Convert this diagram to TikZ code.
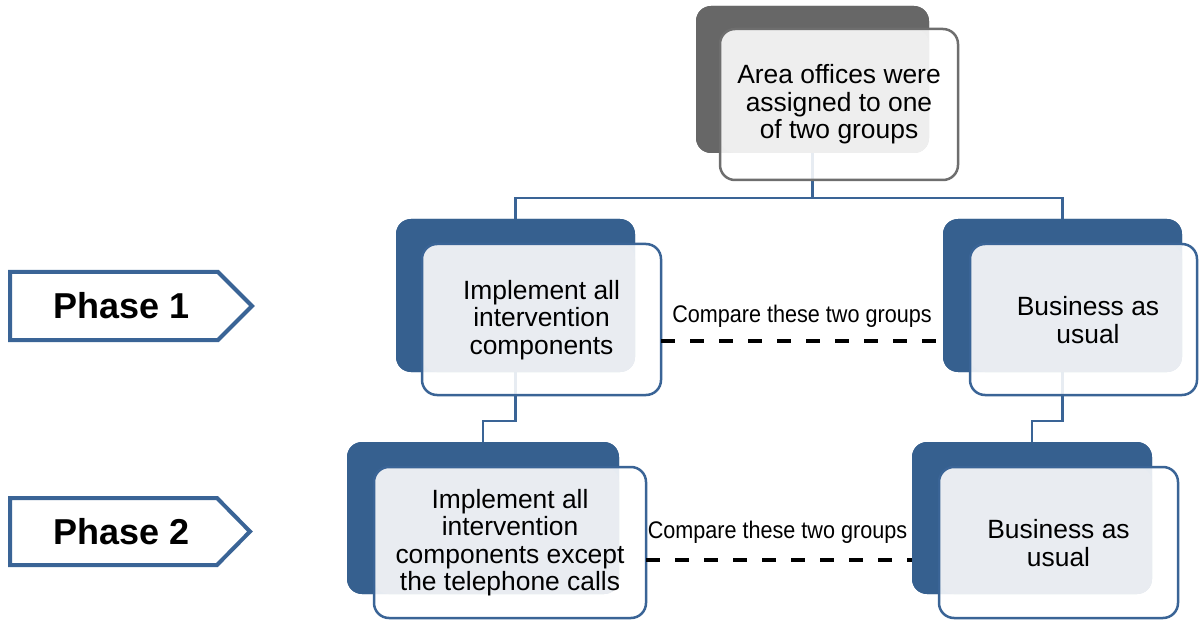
\documentclass[tikz,border=0pt]{standalone}
\usepackage{fontspec}
\setmainfont{Liberation Sans}
\newfontfamily\labelfont[FakeStretch=0.9]{Liberation Sans}
\usetikzlibrary{calc}
\definecolor{greyback}{HTML}{676767}
\definecolor{greyline}{HTML}{6E6E6E}
\definecolor{greylight}{HTML}{EEEEEE}
\definecolor{blueback}{HTML}{36608F}
\definecolor{blueline}{HTML}{3A6496}
\definecolor{bluelight}{HTML}{E9ECF1}
\tikzset{
  backbox/.style={rectangle, rounded corners=15pt, inner sep=0pt, outer sep=0pt, fill=#1},
  frontbox/.style 2 args={rectangle, rounded corners=15pt, inner sep=0pt, outer sep=0pt,
    draw=#1, line width=2.5pt, fill=white, fill opacity=0.88, text opacity=1,
    path picture={\fill[#2, fill opacity=1, rounded corners=15pt]
      (path picture bounding box.north west) rectangle (\darkname.south east);}},
  boxtext/.style={align=center, inner sep=0pt, font=\fontsize{26.4}{27.5}\selectfont},
  conn/.style={draw=blueline, line width=2.8pt},
  dashline/.style={draw=black, line width=4pt, dash pattern=on 14pt off 15pt},
  cmptext/.style={anchor=base, inner sep=0pt, font=\labelfont\fontsize{24}{26}\selectfont},
  phasebox/.style={draw=blueline, line width=4pt, fill=white, line join=miter},
  phasetext/.style={inner sep=0pt, font=\bfseries\fontsize{36}{40}\selectfont}
}
\begin{document}
\begin{tikzpicture}[x=1pt,y=-1pt]
\useasboundingbox (0,0) rectangle (1199,620);

% dark back boxes
\node[backbox=greyback, minimum width=233pt, minimum height=147pt] (topD) at (812.5,79.5) {};
\node[backbox=blueback, minimum width=239pt, minimum height=153pt] (mlD) at (515.5,295.5) {};
\node[backbox=blueback, minimum width=239pt, minimum height=153pt] (mrD) at (1062.5,295.5) {};
\node[backbox=blueback, minimum width=272pt, minimum height=152pt] (blD) at (483,518) {};
\node[backbox=blueback, minimum width=240pt, minimum height=152pt] (brD) at (1032,518) {};

% connectors
\coordinate (hub) at (812.5,198);
\path[conn] (topD.south) -- (hub) -| (mlD.north);
\path[conn] (hub) -| (mrD.north);
\path[conn] (mlD.south) -- ++(0,49) -| (blD.north);
\path[conn] (mrD.south) -- ++(0,49) -| (brD.north);

% redraw dark boxes over the connectors
\fill[greyback, rounded corners=15pt] (topD.north west) rectangle (topD.south east);
\fill[blueback, rounded corners=15pt] (mlD.north west) rectangle (mlD.south east);
\fill[blueback, rounded corners=15pt] (mrD.north west) rectangle (mrD.south east);
\fill[blueback, rounded corners=15pt] (blD.north west) rectangle (blD.south east);
\fill[blueback, rounded corners=15pt] (brD.north west) rectangle (brD.south east);

% front boxes
\def\darkname{topD}
\node[frontbox={greyline}{greylight}, minimum width=238pt, minimum height=151pt] (topF) at (839,104.5) {};
\def\darkname{mlD}
\node[frontbox={blueline}{bluelight}, minimum width=239pt, minimum height=151pt] (mlF) at (541.5,319.5) {};
\def\darkname{mrD}
\node[frontbox={blueline}{bluelight}, minimum width=227pt, minimum height=151pt] (mrF) at (1083.5,319.5) {};
\def\darkname{blD}
\node[frontbox={blueline}{bluelight}, minimum width=272pt, minimum height=151pt] (blF) at (510,542.5) {};
\def\darkname{brD}
\node[frontbox={blueline}{bluelight}, minimum width=239pt, minimum height=151pt] (brF) at (1058.5,542.5) {};

% box texts
\node[boxtext] (topT) at (839,104.5) {Area offices were\\assigned to one\\of two groups};
\node[boxtext] (mlT) at (541.5,320) {Implement all\\intervention\\components};
\node[boxtext] (mrT) at (1088,320) {Business as\\usual};
\node[boxtext] (blT) at (510,542.5) {Implement all\\intervention\\components except\\the telephone calls};
\node[boxtext] (brT) at (1058.5,543) {Business as\\usual};

% comparison dashed lines
\path (mlF.east) ++(0,21.5) coordinate (d1a);
\path (mrD.west |- d1a) coordinate (d1b);
\path[dashline] (d1a) -- (d1b);
\node[cmptext] (cmp1) at (802,322) {Compare these two groups};
\path (blF.east) ++(0,17.5) coordinate (d2a);
\path (brD.west |- d2a) coordinate (d2b);
\path[dashline] (d2a) -- (d2b);
\node[cmptext] (cmp2) at (777.5,538) {Compare these two groups};

% phase arrows
\path[phasebox] (10,272) -- (218,272) -- (252,306) -- (218,340) -- (10,340) -- cycle;
\node[phasetext] (ph1) at (121.5,306) {Phase 1};
\path[phasebox] (10,498) -- (217,498) -- (250,531.5) -- (217,565) -- (10,565) -- cycle;
\node[phasetext] (ph2) at (121.5,532) {Phase 2};
\end{tikzpicture}
\end{document}
